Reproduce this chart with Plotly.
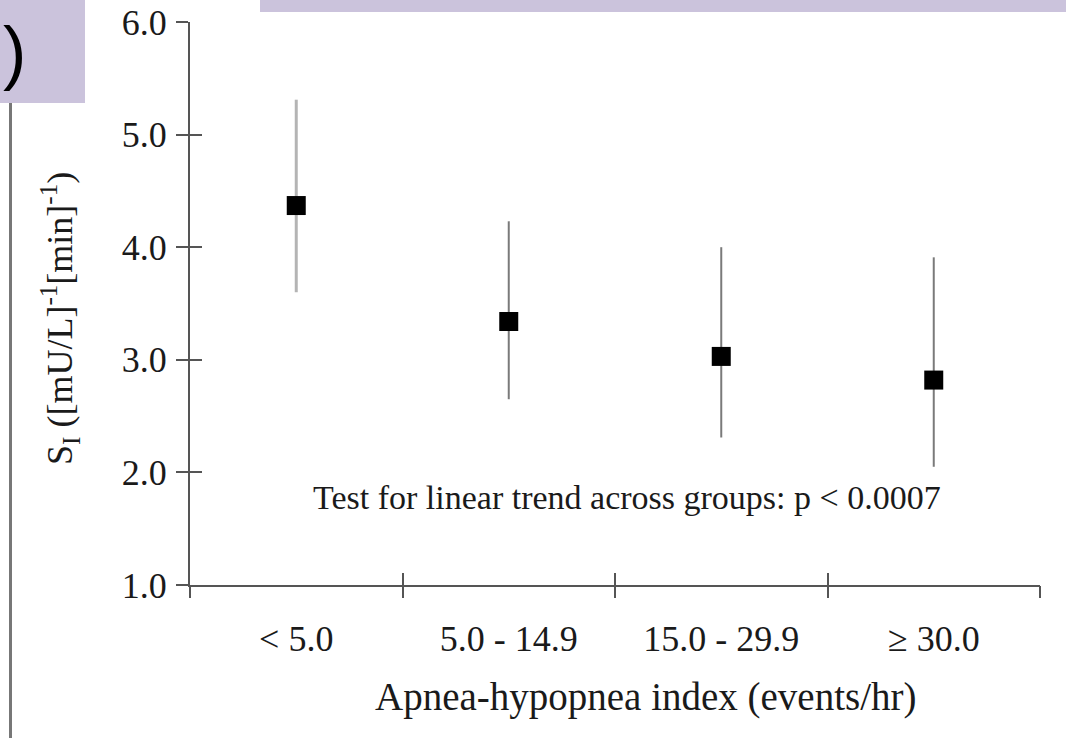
import plotly.graph_objects as go

# Insulin sensitivity (S_I) by apnea-hypopnea index group
categories = ["< 5.0", "5.0 - 14.9", "15.0 - 29.9", "\u2265 30.0"]
si_mean = [4.37, 3.34, 3.03, 2.82]
si_upper = [5.31, 4.23, 4.00, 3.91]
si_lower = [3.60, 2.65, 2.31, 2.05]
y_ticks = [1.0, 2.0, 3.0, 4.0, 5.0, 6.0]
bar_colors = ["#b4b4b4", "#7a7a7a", "#7a7a7a", "#7a7a7a"]
bar_widths = [3, 2, 2, 2]

W, H = 1066, 738
L, R, T, B = 190, 26, 22, 153
PW, PH = W - L - R, H - T - B
FONT = "Liberation Serif"
INK = "#1a1a1a"
AX = "#555555"


def px_x(p):
    return (p - L) / PW


def px_y(p):
    return 1 - (p - T) / PH


positions = [i + 0.5 for i in range(len(categories))]
fig = go.Figure()

for i, (x, m, hi, lo) in enumerate(zip(positions, si_mean, si_upper, si_lower)):
    fig.add_trace(go.Scatter(
        x=[x], y=[m], mode="markers",
        marker=dict(symbol="square", size=19, color="black", line=dict(width=0)),
        error_y=dict(type="data", symmetric=False, array=[hi - m], arrayminus=[m - lo],
                     color=bar_colors[i], thickness=bar_widths[i], width=0),
        showlegend=False, hoverinfo="skip",
    ))

# invisible helpers so the tick-only overlay axes are drawn
for xa, ya in [("x2", "y2"), ("x3", "y3")]:
    fig.add_trace(go.Scatter(x=[None], y=[None], xaxis=xa, yaxis=ya,
                             showlegend=False, hoverinfo="skip"))

tick_font = dict(family=FONT, size=36, color=INK)
grid_edges = list(range(len(categories) + 1))
plain = dict(showgrid=False, zeroline=False, automargin=False)

fig.update_layout(
    width=W, height=H,
    margin=dict(l=L, r=R, t=T, b=B, autoexpand=False),
    paper_bgcolor="white", plot_bgcolor="white",
    xaxis=dict(range=[0, 4], tickvals=positions, ticktext=categories, ticks="",
               showline=True, linecolor=AX, linewidth=2,
               tickfont=tick_font, ticklabelstandoff=21, **plain),
    yaxis=dict(range=[1, 6], tickvals=y_ticks, ticktext=[f"{v:.1f}" for v in y_ticks],
               ticks="outside", ticklen=12, tickwidth=2, tickcolor=AX,
               showline=True, linecolor=AX, linewidth=2,
               tickfont=tick_font, ticklabelstandoff=2, **plain),
    xaxis2=dict(overlaying="x", range=[0, 4], tickvals=grid_edges, showticklabels=False,
                ticks="outside", ticklen=12, tickwidth=2, tickcolor=AX,
                showline=False, anchor="y2", **plain),
    yaxis2=dict(overlaying="y", range=[1, 6], tickvals=y_ticks, showticklabels=False,
                ticks="inside", ticklen=12, tickwidth=2, tickcolor=AX,
                showline=False, anchor="x2", **plain),
    xaxis3=dict(overlaying="x", range=[0, 4], tickvals=grid_edges, showticklabels=False,
                ticks="inside", ticklen=12, tickwidth=2, tickcolor=AX,
                showline=False, anchor="y3", **plain),
    yaxis3=dict(overlaying="y", range=[1, 6], showticklabels=False, ticks="",
                showline=False, anchor="x3", **plain),
)

fig.add_annotation(
    text="Apnea-hypopnea index (events/hr)",
    xref="paper", yref="paper", x=px_x(645), y=px_y(697),
    xanchor="center", yanchor="middle", showarrow=False,
    font=dict(family=FONT, size=39, color=INK),
)
fig.add_annotation(
    text="S<sub>I</sub> ([mU/L]<sup>-1</sup>[min]<sup>-1</sup>)",
    textangle=-90, xref="paper", yref="paper", x=px_x(60), y=px_y(319),
    xanchor="center", yanchor="middle", showarrow=False,
    font=dict(family=FONT, size=36, color=INK),
)
fig.add_annotation(
    text="Test for linear trend across groups: p < 0.0007",
    xref="paper", yref="paper", x=px_x(627), y=px_y(497),
    xanchor="center", yanchor="middle", showarrow=False,
    font=dict(family=FONT, size=34, color=INK),
)

# slide decoration: lavender panels and the thin rule at the left
LAV = "#cbc3dc"
fig.add_shape(type="rect", xref="paper", yref="paper", x0=px_x(0), x1=px_x(85),
              y0=px_y(103), y1=px_y(0), fillcolor=LAV, line=dict(width=0), layer="below")
fig.add_shape(type="rect", xref="paper", yref="paper", x0=px_x(260), x1=px_x(W),
              y0=px_y(12), y1=px_y(0), fillcolor=LAV, line=dict(width=0), layer="below")
fig.add_shape(type="line", xref="paper", yref="paper", x0=px_x(10.5), x1=px_x(10.5),
              y0=px_y(103), y1=px_y(H), line=dict(color="#777777", width=3))
fig.add_annotation(text=")", xref="paper", yref="paper", x=px_x(14), y=px_y(52),
                   xanchor="center", yanchor="middle", showarrow=False,
                   font=dict(family="Liberation Sans", size=70, color="black"))

fig.write_html("out.html")
